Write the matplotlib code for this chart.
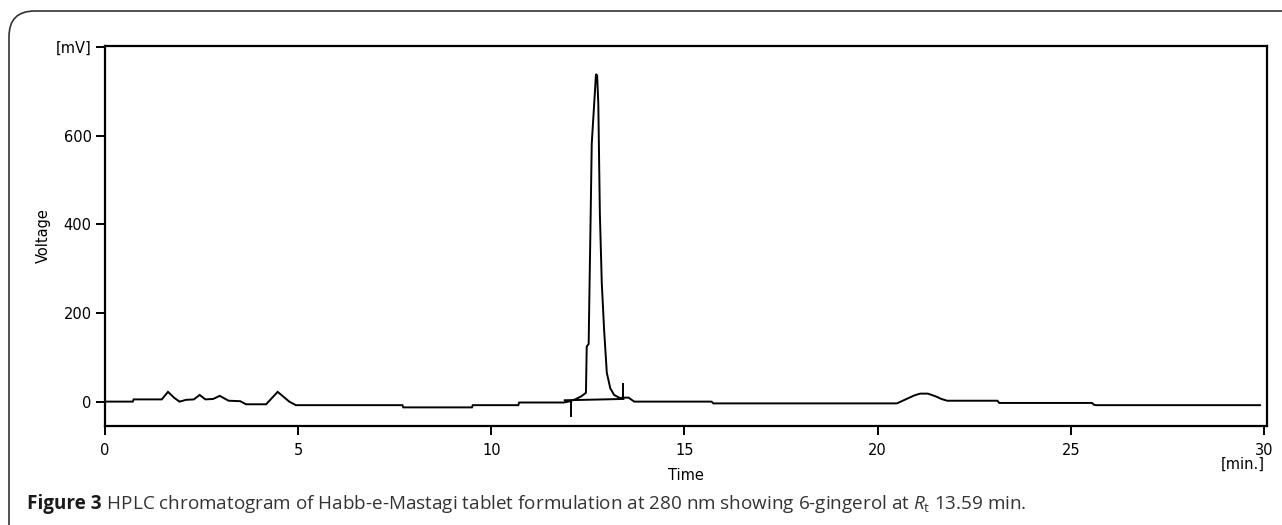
import matplotlib
matplotlib.use("Agg")
import matplotlib.pyplot as plt
from matplotlib.patches import FancyBboxPatch

# ---- data ----
time_min = [0.0, 0.72, 0.74, 1.47, 1.63, 1.80, 1.93, 2.10, 2.30, 2.45, 2.60, 2.80, 2.97,
            3.20, 3.50, 3.65, 4.17, 4.47, 4.77, 4.94, 7.70, 7.72, 9.50, 9.52, 10.70,
            10.72, 11.87, 12.00, 12.17, 12.33, 12.45, 12.47, 12.52, 12.54, 12.57, 12.60,
            12.66, 12.71, 12.74, 12.77, 12.81, 12.86, 12.92, 12.99, 13.08, 13.18, 13.33,
            13.40, 13.55, 13.70, 15.70, 15.75, 20.50, 20.65, 20.80, 20.95, 21.10, 21.30,
            21.50, 21.65, 21.80, 23.10, 23.15, 25.55, 25.60, 25.65, 29.90]
voltage_mv = [0, 0, 5, 5, 22, 8, 0, 4, 5, 15, 5, 6, 13,
              2, 1, -6, -6, 22, 0, -8, -8, -13, -13, -8, -8,
              -2, -2, 0, 5, 12, 20, 124, 130, 245, 409, 582,
              667, 739, 735, 672, 425, 267, 162, 65, 30, 15, 8,
              9, 9, 0, 0, -4, -4, 2, 8, 14, 18, 18,
              12, 6, 2, 2, -3, -3, -7, -8, -8]

# integration baseline and peak start / end markers
baseline_time = [11.90, 13.42]
baseline_mv = [3, 6]
marker_time = [12.07, 13.42]
marker_low = [-34, 6]
marker_high = [2, 43]

x_ticks = [0, 5, 10, 15, 20, 25, 30]
x_tick_labels = ["0", "5", "10", "15", "20", "25", "30"]
y_ticks = [0, 200, 400, 600, 800]
y_tick_labels = ["0", "200", "400", "600", "[mV]"]

caption_bold = "Figure 3"
caption_text = " HPLC chromatogram of Habb-e-Mastagi tablet formulation at 280 nm showing 6-gingerol at "

# ---- figure ----
W, H = 1282, 525
fig = plt.figure(figsize=(W / 100, H / 100), dpi=100)
fig.patch.set_facecolor("white")

# rounded frame (open at right and bottom like the cropped reference)
frame = FancyBboxPatch((9 / W, -40 / H), (W + 40 - 9) / W, (H - 11 + 40) / H,
                       boxstyle="round,pad=0,rounding_size=0.02",
                       transform=fig.transFigure, facecolor="none",
                       edgecolor="#333333", linewidth=1.2, mutation_aspect=W / H)
fig.patches.append(frame)

ax = fig.add_axes([105 / W, 1 - 426 / H, (1267 - 105) / W, (426 - 46) / H])
ax.plot(time_min, voltage_mv, color="black", lw=1.4, solid_joinstyle="miter")
ax.plot(baseline_time, baseline_mv, color="black", lw=1.4)
ax.vlines(marker_time, marker_low, marker_high, color="black", lw=1.4)

ax.set_xlim(0, 30.08)
ax.set_ylim(-55, 802)

for s in ["left", "right", "top", "bottom"]:
    ax.spines[s].set_linewidth(1.6)
    ax.spines[s].set_color("black")

ax.set_xticks(x_ticks)
ax.set_xticklabels(x_tick_labels)
ax.set_yticks(y_ticks)
ax.set_yticklabels(y_tick_labels)
ax.tick_params(axis="both", direction="out", length=6.5, width=1.4, colors="black",
               labelsize=10.5, pad=3)
ax.tick_params(axis="x", pad=6)

ax.set_ylabel("Voltage", fontsize=10.5, labelpad=4)
ax.set_xlabel("Time", fontsize=10.5, labelpad=7)
fig.text(1265 / W, 1 - 464 / H, "[min.]", fontsize=10.5, ha="right", va="center")

# caption
plt.rcParams["mathtext.fontset"] = "custom"
plt.rcParams["mathtext.rm"] = "Open Sans"
plt.rcParams["mathtext.it"] = "Open Sans:italic"
t1 = fig.text(27 / W, 1 - 504 / H, caption_bold, fontsize=13.6, fontweight="bold",
              family="Open Sans", color="#1a1a1a", va="center")
fig.canvas.draw()
bb = t1.get_window_extent()
t2 = fig.text(bb.x1 / W, 1 - 504 / H,
              caption_text + r"$R_{\mathrm{t}}$" + " 13.59 min.",
              fontsize=13.6, family="Open Sans", color="#333333", va="center")

fig.savefig("out.png", dpi=100, facecolor="white")
